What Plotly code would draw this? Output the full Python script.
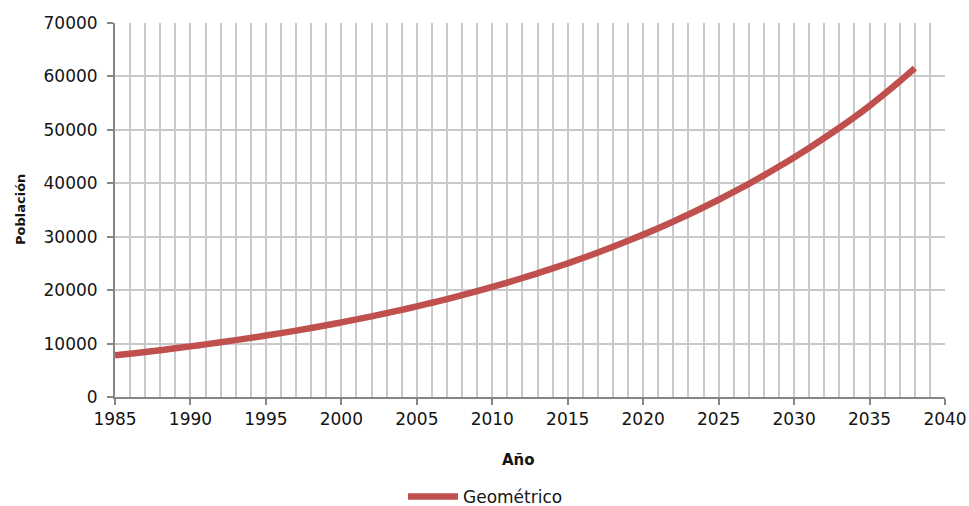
import plotly.graph_objects as go

# Proyección de población, método geométrico
anios = list(range(1985, 2039))
poblacion = [
    7800, 8110, 8430, 8760, 9110, 9470, 9850, 10240, 10640, 11060,
    11500, 11960, 12430, 12920, 13430, 13970, 14520, 15100, 15690, 16320,
    16960, 17640, 18330, 19060, 19820, 20600, 21420, 22270, 23150, 24070,
    25020, 26010, 27040, 28120, 29230, 30390, 31600, 32850, 34150, 35510,
    36920, 38380, 39900, 41480, 43130, 44840, 46620, 48470, 50390, 52390,
    54500, 56750, 59100, 61550,
]
serie = "Geométrico"

FONT = "DejaVu Sans"
GRID = "#c9c9c9"
AXIS = "#868686"
TXT = "#141414"

W, H = 969, 506

fig = go.Figure()
fig.add_trace(go.Scatter(
    x=anios, y=poblacion, mode="lines", name=serie,
    line=dict(color="#C0504D", width=6.5, shape="spline"),
    showlegend=True,
))

fig.update_layout(
    width=W, height=H,
    margin=dict(l=115, r=24, t=23, b=109),
    paper_bgcolor="white", plot_bgcolor="white",
    font=dict(family=FONT, size=17, color=TXT),
    showlegend=True,
    legend=dict(orientation="h", xref="container", yref="container",
                x=403 / W, xanchor="left", y=9 / H, yanchor="middle",
                itemwidth=50, bgcolor="rgba(0,0,0,0)",
                font=dict(family=FONT, size=17, color=TXT)),
    xaxis=dict(
        range=[1985, 2040], dtick=5, tick0=1985, automargin=False,
        showgrid=True, gridcolor=GRID, gridwidth=1.5,
        minor=dict(dtick=1, showgrid=True, gridcolor=GRID, gridwidth=1.5),
        ticks="outside", ticklen=6, tickcolor=AXIS, tickwidth=1.5,
        showline=True, linecolor=AXIS, linewidth=1.5,
        zeroline=False,
    ),
    yaxis=dict(
        range=[0, 70000], dtick=10000, automargin=False,
        showgrid=True, gridcolor=GRID, gridwidth=1.5,
        ticks="outside", ticklen=6, tickcolor=AXIS, tickwidth=1.5,
        ticklabelstandoff=6,
        showline=True, linecolor=AXIS, linewidth=2,
        zeroline=False, tickformat="d",
    ),
    annotations=[
        dict(text="<b>Año</b>", xref="paper", yref="paper",
             x=(518 - 115) / (W - 115 - 24), y=-(460 - 397) / (397 - 23),
             xanchor="center", yanchor="middle", showarrow=False,
             font=dict(family=FONT, size=15, color=TXT)),
        dict(text="<b>Población</b>", xref="paper", yref="paper",
             x=-(115 - 20) / (W - 115 - 24), y=(397 - 210) / (397 - 23),
             xanchor="center", yanchor="middle", showarrow=False, textangle=-90,
             font=dict(family=FONT, size=13, color=TXT)),
    ],
)

fig.write_html("out.html")
